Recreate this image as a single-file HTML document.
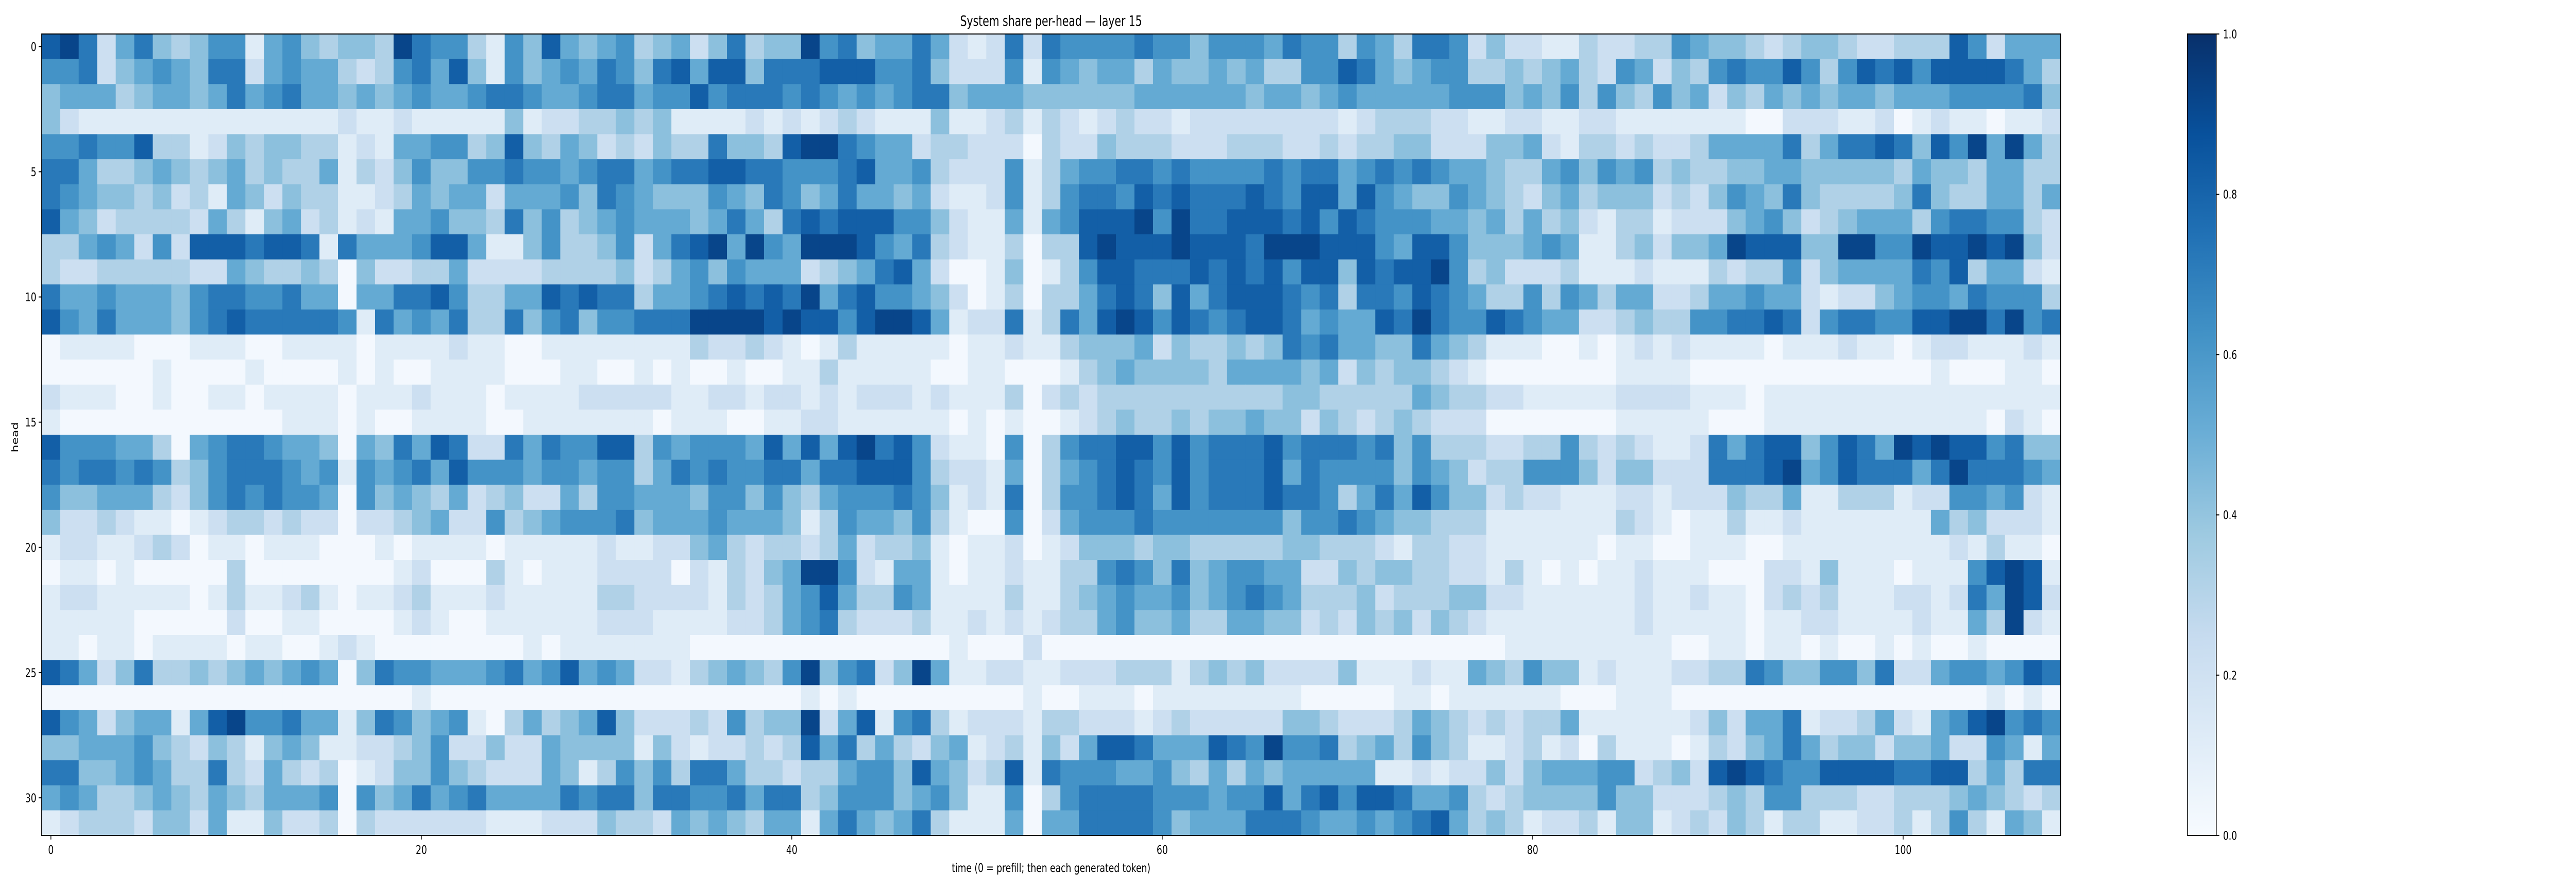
<!DOCTYPE html>
<html><head><meta charset="utf-8"><style>
html,body{margin:0;padding:0;background:#fff;width:100%;height:100%;overflow:hidden;}
svg{display:block;width:100vw;height:100vh;}
svg text{font-family:"DejaVu Sans","Liberation Sans",sans-serif;fill:#000;}
</style></head><body>
<svg id="chart" viewBox="0 0 6867 1728" preserveAspectRatio="none" xmlns="http://www.w3.org/2000/svg">
<rect width="6867" height="1728" fill="#fff"/>
<text x="2802" y="50" text-anchor="middle" font-size="28">System share per-head — layer 15</text>
<g id="cells"></g>
<g id="axes"></g>
<text x="2802" y="1693" text-anchor="middle" font-size="23.5">time (0 = prefill; then each generated token)</text>
<text x="48" y="849" text-anchor="middle" font-size="23.5" transform="rotate(-90 48 849)">head</text>
<defs><linearGradient id="cbg" x1="0" y1="1" x2="0" y2="0">
<stop offset="0" stop-color="#f7fbff"/><stop offset="0.125" stop-color="#deebf7"/><stop offset="0.25" stop-color="#c6dbef"/><stop offset="0.375" stop-color="#9ecae1"/><stop offset="0.5" stop-color="#6baed6"/><stop offset="0.625" stop-color="#4292c6"/><stop offset="0.75" stop-color="#2171b5"/><stop offset="0.875" stop-color="#08519c"/><stop offset="1" stop-color="#08306b"/>
</linearGradient></defs>
<rect x="5831" y="66" width="77" height="1556" fill="url(#cbg)" stroke="#000" stroke-width="2"/>
<g id="cbticks"></g>
</svg>
<script>
// values per head row, in tenths (digit d -> d/10 + 0.02), five column segments concatenated
const heads = [
"8972574346615643443976"+"6316485456345247344967"+"4557521272766667664666"+"5766365377624221132"+"2"+"336544323443223338625",
"6672456547725655323675"+"8416456576478588477788"+"8667422261654553544545"+"3366875456633434532652"+"436766863687868888753",
"4555345545756755454565"+"5677655677566867776765"+"6567745554444445555554"+"5545655555666454636436"+"452435454554555666674",
"4211111111111111211211"+"1114122334341111212123"+"2111411231321232212222"+"2222123332211221122111"+"111100222112012110112",
"6676683312434433121556"+"6348435423243374438997"+"6552332220322433322233"+"3223233442224452133232"+"235555735778748695953",
"7753345434534335132464"+"4667665677567788776667"+"8556322261356677676666"+"7677567676554335646563"+"433445544444354435533",
"7654434231542433112354"+"5525556476544465476457"+"5545211261367768787778"+"7688586544654324534442"+"324654743333474335535",
"8542333325314523121556"+"4437463456555457537878"+"8866421151568889697788"+"8786876665545353421331"+"222456423455536776632",
"3356526288878871755568"+"8511463346257895965999"+"8657321130338988898887"+"9998886588644456511342"+"445988844996698898942",
"3223333322543343042233"+"5222233334235646555234"+"5785200140136887778787"+"8688487889634222311121"+"113233624555576835521",
"7556555467766755055778"+"6335587877355678787957"+"8665420130335787485788"+"8767377687653363653552"+"235565521224566576663",
"8657555467877777617565"+"7337467466777999989886"+"8998512271375898687678"+"8756558797668765522343"+"366778726776688997967",
"0111100011100111101111"+"2110011111111322321013"+"1111101121134445243343"+"4767554475431110010121"+"211110111211012211121",
"0000001000010000101001"+"1110001100101001001131"+"1111001100013454444355"+"5545243443210000000111"+"100000000000001000110",
"2111001001101111011121"+"1101111222221122122121"+"2221211130232333333333"+"3443333354332211111222"+"211101111111111111111",
"1000000000000111010011"+"1100111111101110011221"+"1111101010012343343445"+"4424323432220000000111"+"110001111111111110210",
"8666553056776554054758"+"7227576688365666585858"+"9786211060367788686777"+"8677767463332233632321"+"127578846875989886744",
"7677676346777656165675"+"8666566566357676677577"+"8886322150356787686777"+"8576666465423366642442"+"227778956877757977765",
"6445553246767665064543"+"5234225366555466464356"+"6676412170366787586777"+"8776357586442322111221"+"222433511333122665621",
"4223211012332322022345"+"2263456667455565554136"+"5546310060256667666666"+"6466765443331111111321"+"011311211111115342221",
"1221123201101110001011"+"1101111121122453233235"+"2334101120124443443333"+"3443332133221111110110"+"011100111111111213110",
"0110100000300000000120"+"0031011122220213245996"+"2155101121133676474566"+"5522434433221310101121"+"110002214111011168981",
"1221111101311231011231"+"1121111133222213235685"+"3365111131134565564567"+"6533342333442211111121"+"121102323111221275982",
"1111100000200110000121"+"0011111122211112235673"+"2223112121233564453355"+"4423243424321111111121"+"111101122111121153921",
"1101101111011001210000"+"0000101111111000000000"+"0000010002000000000000"+"0000000000000111111111"+"001101101001010010000",
"8752473343454565047665"+"5567568565221345436946"+"7249511221122233313434"+"2222411121154364412111"+"223376446647225665687",
"0000000000000000000010"+"0000000000000000000101"+"0000000001001110111111"+"1100000110111111000111"+"000000000000000001010",
"8652455158966755147645"+"6103534584222326344925"+"8167312221332221232222"+"2443222354323233511111"+"124255712235215689676",
"4455564324314541122346"+"2242254444142122323857"+"3532451231425887555876"+"9667345364311231203111"+"013245753442445226515",
"7744565337325323012446"+"4322254136463775332335"+"6648542381766655643535"+"4555551121224245556623"+"428987668888778835377",
"5653345435435556064575"+"6755557677477667577346"+"6645641160367777666566"+"8578688755632344446442"+"223436633322333454323",
"1233324425114223032222"+"2211122243325454355157"+"5457311150557777645557"+"7765565678534312231441"+"232431331122313631541"
];
const timeTicks = [0, 20, 40, 60, 80, 100];
const headTicks = [0, 5, 10, 15, 20, 25, 30];
const cbarTicks = ["0.0", "0.2", "0.4", "0.6", "0.8", "1.0"];
</script>
<script>
const NS = "http://www.w3.org/2000/svg";
const NCOL = 109, NROW = 32;
const X0 = 111, X1 = 5493, Y0 = 66, Y1 = 1622;
const cw = (X1 - X0) / NCOL, rh = (Y1 - Y0) / NROW;
const xPos = c => X0 + c * cw;
const yPos = r => Y0 + r * rh;
const stops = ["#f7fbff","#deebf7","#c6dbef","#9ecae1","#6baed6","#4292c6","#2171b5","#08519c","#08306b"].map(h => [parseInt(h.slice(1,3),16),parseInt(h.slice(3,5),16),parseInt(h.slice(5,7),16)]);
function blues(v) {
  v = Math.max(0, Math.min(1, v));
  const t = v * 8, i = Math.min(7, Math.floor(t)), f = t - i;
  const a = stops[i], b = stops[i + 1];
  return "rgb(" + [0,1,2].map(k => Math.round(a[k] + (b[k] - a[k]) * f)).join(",") + ")";
}
const cells = document.getElementById("cells");
heads.forEach((row, r) => {
  for (let c = 0; c < NCOL; c++) {
    const ch = row[Math.min(c, row.length - 1)];
    const v = parseInt(ch, 10) / 10 + 0.02;
    const el = document.createElementNS(NS, "rect");
    el.setAttribute("x", xPos(c).toFixed(2));
    el.setAttribute("y", yPos(r).toFixed(2));
    el.setAttribute("width", (cw + 0.6).toFixed(2));
    el.setAttribute("height", (rh + 0.6).toFixed(2));
    el.setAttribute("fill", blues(v));
    
    
    cells.appendChild(el);
  }
});
const axes = document.getElementById("axes");
const frame = document.createElementNS(NS, "rect");
frame.setAttribute("x", X0); frame.setAttribute("y", Y0);
frame.setAttribute("width", X1 - X0); frame.setAttribute("height", Y1 - Y0);
frame.setAttribute("fill", "none"); frame.setAttribute("stroke", "#000"); frame.setAttribute("stroke-width", "2");


axes.appendChild(frame);
timeTicks.forEach(t => {
  const x = xPos(t + 0.5);
  const ln = document.createElementNS(NS, "line");
  ln.setAttribute("x1", x); ln.setAttribute("x2", x); ln.setAttribute("y1", Y1); ln.setAttribute("y2", Y1 + 8);
  ln.setAttribute("stroke", "#000"); ln.setAttribute("stroke-width", "2");
  
  
  axes.appendChild(ln);
  const tx = document.createElementNS(NS, "text");
  tx.setAttribute("x", x); tx.setAttribute("y", Y1 + 36); tx.setAttribute("text-anchor", "middle"); tx.setAttribute("font-size", "23.5");
  tx.textContent = t;
  
  
  axes.appendChild(tx);
});
headTicks.forEach(h => {
  const y = yPos(h + 0.5);
  const ln = document.createElementNS(NS, "line");
  ln.setAttribute("x1", X0 - 8); ln.setAttribute("x2", X0); ln.setAttribute("y1", y); ln.setAttribute("y2", y);
  ln.setAttribute("stroke", "#000"); ln.setAttribute("stroke-width", "2");
  
  
  axes.appendChild(ln);
  const tx = document.createElementNS(NS, "text");
  tx.setAttribute("x", X0 - 14); tx.setAttribute("y", y + 8.5); tx.setAttribute("text-anchor", "end"); tx.setAttribute("font-size", "23.5");
  tx.textContent = h;
  
  
  axes.appendChild(tx);
});
const cb = document.getElementById("cbticks");
cbarTicks.forEach(lbl => {
  const y = Y1 - parseFloat(lbl) * (Y1 - Y0);
  const ln = document.createElementNS(NS, "line");
  ln.setAttribute("x1", 5908); ln.setAttribute("x2", 5916); ln.setAttribute("y1", y); ln.setAttribute("y2", y);
  ln.setAttribute("stroke", "#000"); ln.setAttribute("stroke-width", "2");
  
  
  cb.appendChild(ln);
  const tx = document.createElementNS(NS, "text");
  tx.setAttribute("x", 5926); tx.setAttribute("y", y + 8.5); tx.setAttribute("font-size", "23.5");
  tx.textContent = lbl;
  
  
  cb.appendChild(tx);
});
</script>
</body></html>
